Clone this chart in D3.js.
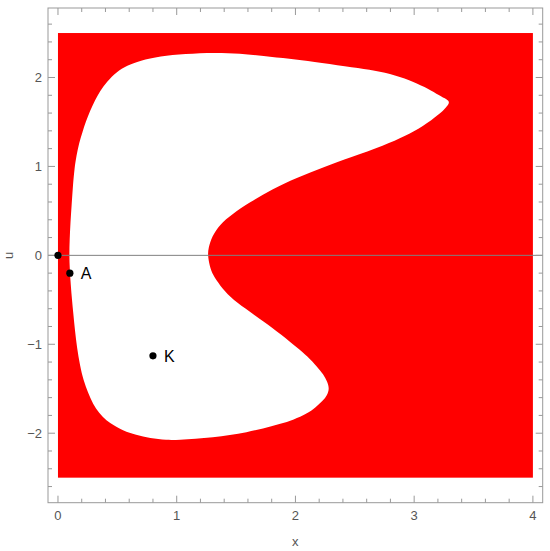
<!DOCTYPE html>
<html>
<head>
<meta charset="utf-8">
<script src="https://cdn.jsdelivr.net/npm/d3@7"></script>
<style>
  html, body { margin: 0; padding: 0; background: #fff; }
  svg { display: block; }
</style>
</head>
<body>
<svg id="chart" width="550" height="551"></svg>
<script>
// ---- data ----
const xTicks = [0, 1, 2, 3, 4];
const uTicks = [-2, -1, 0, 1, 2];
const regionX = [0, 4];
const regionU = [-2.5, 2.5];
// boundary of the white region (x, u), traced from the upper tip, clockwise
const boundaryX = [3.306, 3.267, 3.217, 3.074, 2.922, 2.754, 2.459, 2.248, 2.013, 1.802, 1.617, 1.465, 1.364, 1.297, 1.266, 1.262, 1.276, 1.305, 1.364, 1.448, 1.575, 1.726, 1.886, 2.013, 2.105, 2.181, 2.236, 2.268, 2.286, 2.268, 2.232, 2.173, 2.093, 1.987, 1.869, 1.726, 1.587, 1.448, 1.305, 1.154, 1.027, 0.915, 0.775, 0.657, 0.547, 0.472, 0.408, 0.345, 0.295, 0.253, 0.215, 0.185, 0.160, 0.143, 0.129, 0.116, 0.105, 0.099, 0.095, 0.098, 0.105, 0.115, 0.126, 0.139, 0.156, 0.177, 0.206, 0.236, 0.269, 0.312, 0.354, 0.413, 0.493, 0.581, 0.691, 0.859, 1.069, 1.322, 1.533, 1.726, 1.954, 2.147, 2.429, 2.627, 2.796, 2.964, 3.091, 3.192, 3.262];
const boundaryU = [1.726, 1.661, 1.593, 1.447, 1.340, 1.239, 1.098, 0.997, 0.873, 0.743, 0.597, 0.462, 0.349, 0.214, 0.079, 0, -0.113, -0.225, -0.338, -0.467, -0.597, -0.738, -0.895, -1.036, -1.137, -1.250, -1.340, -1.419, -1.498, -1.572, -1.633, -1.706, -1.785, -1.847, -1.898, -1.948, -1.990, -2.021, -2.047, -2.064, -2.074, -2.079, -2.057, -2.021, -1.971, -1.914, -1.858, -1.774, -1.672, -1.543, -1.408, -1.239, -1.036, -0.845, -0.653, -0.473, -0.282, -0.146, 0, 0.169, 0.372, 0.563, 0.788, 0.980, 1.126, 1.261, 1.385, 1.509, 1.622, 1.745, 1.847, 1.954, 2.061, 2.134, 2.190, 2.241, 2.266, 2.281, 2.268, 2.243, 2.209, 2.179, 2.123, 2.089, 2.044, 1.971, 1.892, 1.813, 1.764];
const pointNames = ["", "A", "K"];
const pointX = [0, 0.1, 0.8];
const pointU = [0, -0.2, -1.13];

// ---- layout ----
const svg = d3.select("#chart");
const mLeft = 48, mRight = 542.7, mTop = 8, mBottom = 502.7;
const x = d3.scaleLinear().domain([-0.084, 4.0825]).range([mLeft, mRight]);
const y = d3.scaleLinear().domain([-2.7815, 2.7815]).range([mBottom, mTop]);

// red region
svg.append("rect")
  .attr("x", x(regionX[0])).attr("y", y(regionU[1]))
  .attr("width", x(regionX[1]) - x(regionX[0]))
  .attr("height", y(regionU[0]) - y(regionU[1]))
  .attr("fill", "#ff0000");

// white hole
const pts = boundaryX.map((d, i) => [d, boundaryU[i]]);
svg.append("path")
  .attr("d", d3.line().x(d => x(d[0])).y(d => y(d[1])).curve(d3.curveBasisClosed)(pts))
  .attr("fill", "#ffffff");

// u = 0 line
svg.append("line")
  .attr("x1", mLeft).attr("x2", mRight)
  .attr("y1", y(0)).attr("y2", y(0))
  .attr("stroke", "#808080").attr("stroke-width", 1);

// frame & ticks
const frameColor = "#999999";
const labelColor = "#555555";
const g = svg.append("g");
g.append("rect").attr("x", mLeft).attr("y", mTop)
  .attr("width", mRight - mLeft).attr("height", mBottom - mTop)
  .attr("fill", "none").attr("stroke", frameColor).attr("stroke-width", 1);

const xMinor = d3.range(0, 4.001, 0.2).filter(v => Math.abs(v - Math.round(v)) > 1e-6);
const uMinor = d3.range(-2.6, 2.601, 0.2).filter(v => Math.abs(v - Math.round(v)) > 1e-6);

function tickLines(vals, len, horizontal) {
  vals.forEach(v => {
    if (horizontal) {
      const px = x(v);
      g.append("line").attr("x1", px).attr("x2", px).attr("y1", mBottom).attr("y2", mBottom - len).attr("stroke", frameColor);
      g.append("line").attr("x1", px).attr("x2", px).attr("y1", mTop).attr("y2", mTop + len).attr("stroke", frameColor);
    } else {
      const py = y(v);
      g.append("line").attr("y1", py).attr("y2", py).attr("x1", mLeft).attr("x2", mLeft + len).attr("stroke", frameColor);
      g.append("line").attr("y1", py).attr("y2", py).attr("x1", mRight).attr("x2", mRight - len).attr("stroke", frameColor);
    }
  });
}
tickLines(xTicks, 7, true);
tickLines(xMinor, 4, true);
tickLines(uTicks, 7, false);
tickLines(uMinor, 4, false);

const font = "Liberation Sans, Arial, sans-serif";
xTicks.forEach(v => {
  svg.append("text").attr("x", x(v)).attr("y", mBottom + 17)
    .attr("text-anchor", "middle").attr("font-family", font).attr("font-size", 13)
    .attr("fill", labelColor).text(v);
});
uTicks.forEach(v => {
  svg.append("text").attr("x", mLeft - 6).attr("y", y(v) + 4.5)
    .attr("text-anchor", "end").attr("font-family", font).attr("font-size", 13)
    .attr("fill", labelColor).text(v < 0 ? "\u2212" + Math.abs(v) : v);
});
svg.append("text").attr("x", (mLeft + mRight) / 2).attr("y", 546)
  .attr("text-anchor", "middle").attr("font-family", font).attr("font-size", 13)
  .attr("fill", labelColor).text("x");
svg.append("text").attr("transform", `translate(13,${y(0)}) rotate(-90)`)
  .attr("text-anchor", "middle").attr("font-family", font).attr("font-size", 13)
  .attr("fill", labelColor).text("u");

// points
pointX.forEach((px, i) => {
  svg.append("circle").attr("cx", x(px)).attr("cy", y(pointU[i])).attr("r", 3.6).attr("fill", "#000");
  if (pointNames[i]) {
    svg.append("text").attr("x", x(px) + 11).attr("y", y(pointU[i]) + 6)
      .attr("font-family", font).attr("font-size", 16).attr("fill", "#000").text(pointNames[i]);
  }
});
</script>
</body>
</html>
